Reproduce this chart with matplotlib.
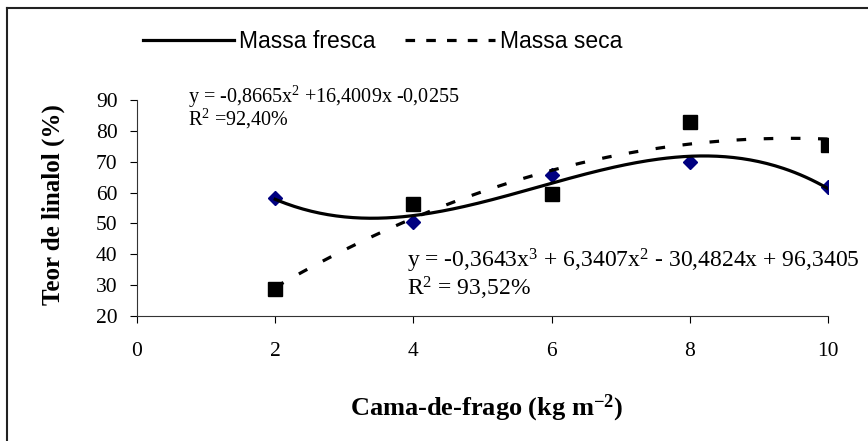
#!/usr/bin/env python3
"""Linalool content vs. goat manure dose, fresh and dry mass, with trend lines."""

import numpy as np
import matplotlib
matplotlib.use('Agg')
import matplotlib.pyplot as plt
from matplotlib.lines import Line2D

# data
doses = [2, 4, 6, 8, 10]
massa_fresca = [58.2, 50.6, 65.6, 69.8, 61.7]
massa_seca = [28.7, 56.4, 59.4, 82.8, 75.3]

# trend line coefficients as printed on the chart (highest power first)
coef_fresca = [-0.3643, 6.3407, -30.4824, 96.3405]
coef_seca = [-0.8665, 16.4009, -0.0255]

eq_fresca = (r'y = -0,3643x$^{\mathrm{3}}$ + 6,3407x$^{\mathrm{2}}$ - 30,4824x + 96,3405'
             '\n' r'R$^{\mathrm{2}}$ = 93,52%')
eq_seca = (r'y = -0,8665x$^{\mathrm{2}}$ +16,4009x -0,0255'
           '\n' r'R$^{\mathrm{2}}$ =92,40%')

x_ticks = [0, 2, 4, 6, 8, 10]
y_ticks = [20, 30, 40, 50, 60, 70, 80, 90]

plt.rcParams['font.family'] = 'Liberation Serif'
plt.rcParams['mathtext.fontset'] = 'custom'
plt.rcParams['mathtext.rm'] = 'Liberation Serif'
plt.rcParams['mathtext.it'] = 'Liberation Serif:italic'
plt.rcParams['mathtext.bf'] = 'Liberation Serif:bold'

W, H = 868, 441
fig = plt.figure(figsize=(W / 100, H / 100), dpi=100)
ax = fig.add_axes([137 / W, 1 - 316 / H, (828 - 137) / W, (316 - 100) / H])

# markers
ax.plot(doses, massa_fresca, linestyle='none', marker='D', ms=7,
        color='#000080', zorder=2)
ax.plot(doses, massa_seca, linestyle='none', marker='s', ms=9.5,
        color='black', zorder=2)

# trend lines
xs = np.linspace(doses[0], doses[-1], 200)
ax.plot(xs, np.polyval(coef_fresca, xs), color='black', lw=2.3, zorder=3)
ax.plot(xs, np.polyval(coef_seca, xs), color='black', lw=2.3,
        dashes=(3, 5.5), zorder=3)

ax.set_xlim(0, 10)
ax.set_ylim(20, 90)
ax.set_xticks(x_ticks)
ax.set_yticks(y_ticks)
ax.set_xticklabels([str(v) for v in x_ticks])
ax.set_yticklabels([str(v) for v in y_ticks])
ax.tick_params(axis='x', direction='out', length=5, width=0.8, pad=14, labelsize=15.5)
ax.tick_params(axis='y', direction='out', length=5, width=0.8, pad=9, labelsize=15.5)
for side in ['top', 'right']:
    ax.spines[side].set_visible(False)
for side in ['left', 'bottom']:
    ax.spines[side].set_linewidth(0.8)
    ax.spines[side].set_color('#333333')

ax.set_xlabel(r'Cama-de-frago (kg m$^{\mathbf{-2}}$)', fontsize=19,
              fontweight='bold', ha='center', va='center')
ax.xaxis.set_label_coords(0.5065, -0.426)
ax.set_ylabel('Teor de linalol (%)', fontsize=18, fontweight='bold',
              ha='center', va='center')
ax.yaxis.set_label_coords(-0.1216, 0.514)

# equations (va='baseline' anchors the R² line)
fig.text(188 / W, 1 - 125 / H, eq_seca, fontsize=14.5, va='baseline',
         linespacing=0.82)
fig.text(407 / W, 1 - 296 / H, eq_fresca, fontsize=17, va='baseline',
         linespacing=1.02)

# legend
handles = [Line2D([], [], color='black', lw=2.3),
           Line2D([], [], color='black', lw=2.3, dashes=(3, 3.5))]
ax.legend(handles, ['Massa fresca', 'Massa seca'], ncol=2, frameon=False,
          loc='center left', bbox_to_anchor=(143 / W, 1 - 42 / H),
          bbox_transform=fig.transFigure, borderpad=0, borderaxespad=0,
          handlelength=3.95, handletextpad=0.22, columnspacing=1.3,
          prop={'family': 'Liberation Sans', 'size': 16.5})

# outer frame (top and left edges visible in the reference)
fig.add_artist(Line2D([7 / W, 7 / W], [0, 1 - 8 / H], color='#222222', lw=1.5))
fig.add_artist(Line2D([7 / W, 1], [1 - 8 / H, 1 - 8 / H], color='#222222', lw=1.5))

fig.savefig('out.png', dpi=100)
